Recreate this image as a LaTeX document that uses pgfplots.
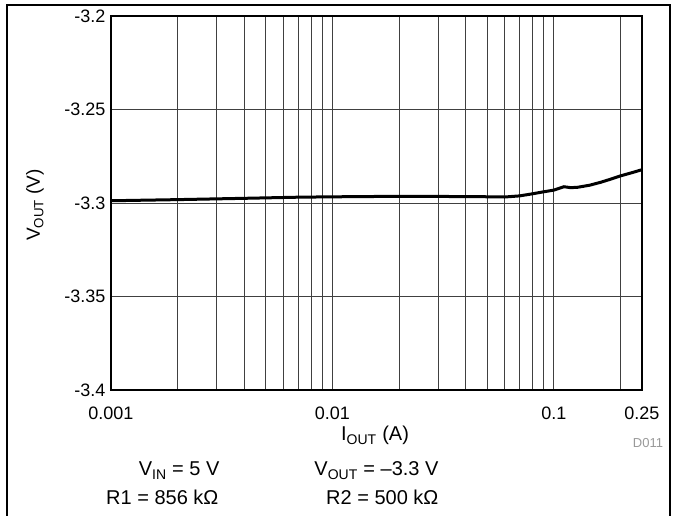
\documentclass[border=0pt]{standalone}
\usepackage{pgfplots}
\pgfplotsset{compat=1.18}
\usepackage{fontspec}
\setmainfont{Liberation Sans}
\newcommand{\lblfont}{\fontsize{18}{21}\selectfont}
\newcommand{\notefont}{\fontsize{20}{23}\selectfont}
\begin{document}
\begin{tikzpicture}[x=1pt,y=1pt]
\useasboundingbox (0,0) rectangle (673,516);
% outer frame (bottom edge is cut off in the source)
\draw[line width=1.2pt] (7,0) -- (7,511) -- (670,511) -- (670,0);
\begin{semilogxaxis}[
  at={(111pt,126pt)}, anchor=south west,
  scale only axis, width=531pt, height=374pt,
  xmin=0.001, xmax=0.25, ymin=-3.4, ymax=-3.2,
  xtick={0.001,0.01,0.1,0.25}, xticklabels={0.001,0.01,0.1,0.25},
  minor xtick={0.002,0.003,0.004,0.005,0.006,0.007,0.008,0.009,0.02,0.03,0.04,0.05,0.06,0.07,0.08,0.09,0.2},
  ytick={-3.4,-3.35,-3.3,-3.25,-3.2}, yticklabels={-3.4,-3.35,-3.3,-3.25,-3.2},
  grid=both,
  major grid style={black!75, line width=0.8pt},
  minor grid style={black!75, line width=0.8pt},
  tick style={draw=none},
  axis line style={line width=2.5pt},
  /pgf/number format/assume math mode=true,
  ticklabel style={font=\lblfont},
  xticklabel style={anchor=base, yshift=-30pt},
  yticklabel style={xshift=-2pt},
]
\addplot[black, line width=3pt, mark=none] coordinates {
 (0.001,-3.2988) (0.002,-3.2982) (0.004,-3.2975) (0.007,-3.2969)
 (0.01,-3.2967) (0.0165,-3.2965) (0.03,-3.2965) (0.045,-3.2966)
 (0.06,-3.2968) (0.07,-3.2962) (0.08,-3.2951) (0.09,-3.2940)
 (0.1,-3.2931) (0.106,-3.2921) (0.111,-3.2913) (0.119,-3.2918)
 (0.128,-3.2916) (0.145,-3.2905) (0.163,-3.2889) (0.18,-3.2873)
 (0.2,-3.2855) (0.225,-3.2838) (0.25,-3.2822)
};
\end{semilogxaxis}
\node[font=\notefont, anchor=base] at (375,75) {I\textsubscript{OUT} (A)};
\node[font=\fontsize{19}{22}\selectfont, rotate=90] at (35,311) {V\textsubscript{OUT} (V)};
\node[font=\fontsize{13}{15}\selectfont, text=black!40, anchor=base] at (648,68) {D011};
\node[font=\notefont, anchor=base east] at (223,40) {V\textsubscript{IN} = 5 V};
\node[font=\notefont, anchor=base east] at (222,11) {R1 = 856 kΩ};
\node[font=\notefont, anchor=base east] at (442,40) {V\textsubscript{OUT} = –3.3 V};
\node[font=\notefont, anchor=base east] at (442,11) {R2 = 500 kΩ};
\end{tikzpicture}
\end{document}
